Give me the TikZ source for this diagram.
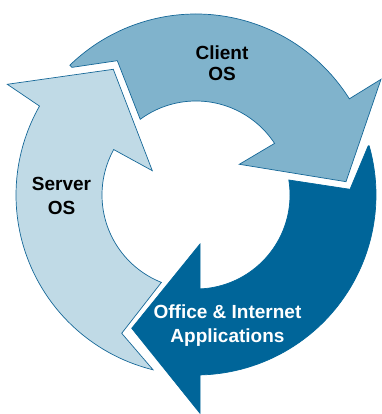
\documentclass[tikz,border=0pt]{standalone}
\usepackage{fontspec}
\setmainfont{Liberation Sans}
\definecolor{serverfill}{RGB}{192,218,230}
\definecolor{clientfill}{RGB}{128,179,204}
\definecolor{darkfill}{RGB}{0,101,153}
\definecolor{edgeblue}{RGB}{22,104,152}
\begin{document}
\begin{tikzpicture}[x=1pt,y=1pt,
  arrowshape/.style={draw=edgeblue,line width=0.7pt,line join=miter},
  lbl/.style={font=\fontsize{19}{23}\selectfont\bfseries,align=center,inner sep=0pt}]
\useasboundingbox (0,0) rectangle (381,414);
\coordinate (c) at (196,219);
\begin{scope}[shift={(c)}]
% Server OS arrow
\path[arrowshape,fill=serverfill]
  (150.4:180) -- (-188.7,110.7) -- (-82.7,125.7) -- (-43.7,24.3) -- (151.1:94)
  arc[start angle=151.1,end angle=248.4,radius=94]
  -- (-74.3,-138.3) -- (256.2:180)
  arc[start angle=256.2,end angle=150.4,radius=180] -- cycle;
% Client OS arrow
\path[arrowshape,fill=clientfill]
  (134.2:178) -- (-78.7,134.3) -- (126.4:94)
  arc[start angle=126.4,end angle=33.3,radius=94]
  -- (43.3,30.7) -- (150,13.3) -- (185,115.7) -- (32.1:181)
  arc[start angle=32.1,end angle=134.2,radius=181] -- cycle;
% Office & Internet arrow
\path[arrowshape,fill=darkfill,draw=darkfill]
  (15.9:179) -- (154,5.7) -- (9.2:94)
  arc[start angle=9.2,end angle=-87.5,radius=94]
  -- (4,-49) -- (-64.3,-133.3) -- (4,-218.3) -- (-88.7:180)
  arc[start angle=-88.7,end angle=15.9,radius=180] -- cycle;
\end{scope}
\node[lbl,font=\fontsize{19}{21}\selectfont\bfseries] (client) at (222,350.5) {Client\\OS};
\node[lbl,font=\fontsize{19}{24}\selectfont\bfseries] (server) at (61.5,218) {Server\\OS};
\node[lbl,text=white,font=\fontsize{19}{24}\selectfont\bfseries] (office) at (227.5,88) {Office \& Internet\\Applications};
\end{tikzpicture}
\end{document}
